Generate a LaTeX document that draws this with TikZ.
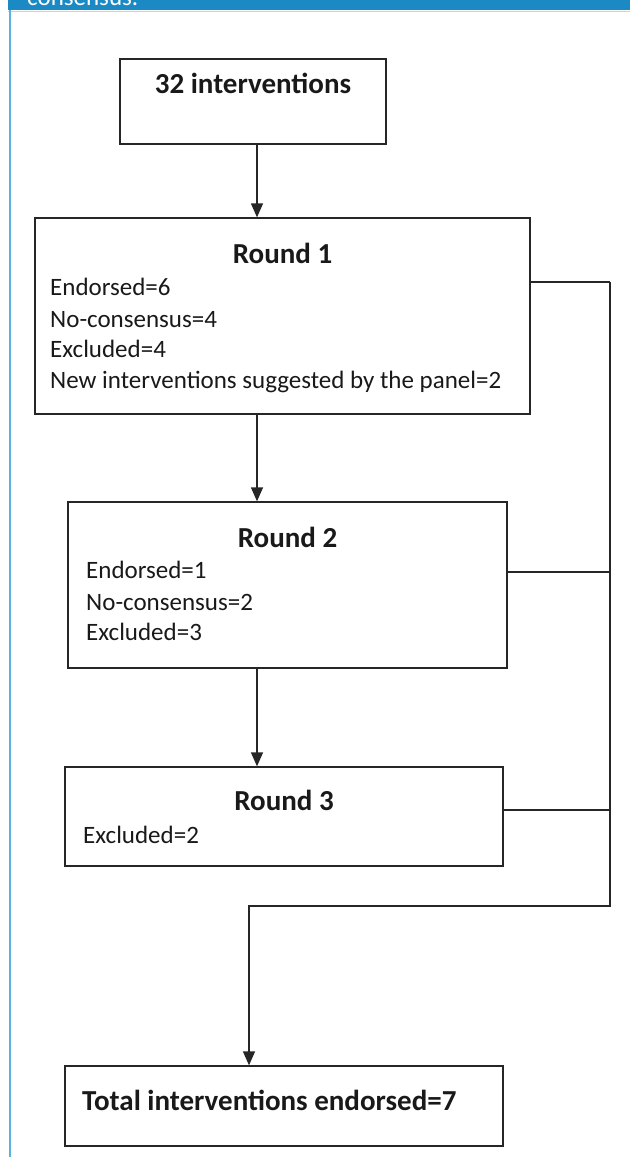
\documentclass[tikz,border=0pt]{standalone}
\usepackage{fontspec}
\setmainfont{Carlito}
\usetikzlibrary{positioning,arrows.meta}
\definecolor{banner}{HTML}{1B8AC4}
\definecolor{edge}{HTML}{5BB2DE}
\definecolor{pale}{HTML}{B4DAF0}
\begin{document}
\begin{tikzpicture}[x=1pt, y=-1pt,
        box/.style = {draw=black!85, line width=1.3pt, inner sep=0pt},
        title/.style = {font=\fontsize{29}{33}\selectfont\bfseries, text=black!90, inner sep=0pt, anchor=base},
        item/.style = {font=\fontsize{25}{29}\selectfont, text=black!90, inner sep=0pt, anchor=base west},
        link/.style = {draw=black!85, line width=1.3pt},
        arr/.style = {link, -{Triangle[width=12pt,length=14pt]}}]
    \useasboundingbox (0,0) rectangle (630,1157);
    % frame of the figure
    \fill[banner] (8,0) rectangle (630,10);
    \begin{scope}
        \clip (8,0) rectangle (630,10);
        \node[item, text=white] (cap) at (27,5) {consensus.};
    \end{scope}
    \draw[pale, line width=1pt] (8,11) -- (630,11);
    \draw[edge, line width=2.5pt] (10,10) -- (10,1157);
    % boxes
    \node[box, minimum width=266pt, minimum height=85pt] (start) at (253,101.5) {};
    \node[box, minimum width=495pt, minimum height=196pt] (r1) at (282.5,316) {};
    \node[box, minimum width=439pt, minimum height=166pt] (r2) at (287.5,585) {};
    \node[box, minimum width=438pt, minimum height=99pt] (r3) at (284,816.5) {};
    \node[box, minimum width=438pt, minimum height=80pt] (tot) at (284,1106) {};
    % texts
    \node[title] (startt) at (253,93) {32 interventions};
    \node[title] (r1t) at (282.5,263) {Round 1};
    \node[item] (r1a) at (50,295) {Endorsed=6};
    \node[item] (r1b) at (50,327) {No-consensus=4};
    \node[item] (r1c) at (50,357) {Excluded=4};
    \node[item] (r1d) at (50,388) {New interventions suggested by the panel=2};
    \node[title] (r2t) at (287.5,547) {Round 2};
    \node[item] (r2a) at (86,578) {Endorsed=1};
    \node[item] (r2b) at (86,610) {No-consensus=2};
    \node[item] (r2c) at (86,640) {Excluded=3};
    \node[title] (r3t) at (284,810) {Round 3};
    \node[item] (r3a) at (83,843) {Excluded=2};
    \node[title, anchor=base west] (tott) at (82,1110) {Total interventions endorsed=7};
    % connectors
    \coordinate (spine) at (257,0);
    \coordinate (bustop) at (610,282);
    \coordinate (busbot) at (610,906);
    \coordinate (drop) at (249,906);
    \draw[arr] (start.south -| spine) -- (r1.north -| spine);
    \draw[arr] (r1.south -| spine) -- (r2.north -| spine);
    \draw[arr] (r2.south -| spine) -- (r3.north -| spine);
    \draw[link] (r1.east |- bustop) -- (bustop);
    \draw[link] (r2.east |- 0,572) -- (busbot |- 0,572);
    \draw[link] (r3.east |- 0,810) -- (busbot |- 0,810);
    \draw[arr] (bustop) -- (busbot) -- (drop) -- (tot.north -| drop);
\end{tikzpicture}
\end{document}
